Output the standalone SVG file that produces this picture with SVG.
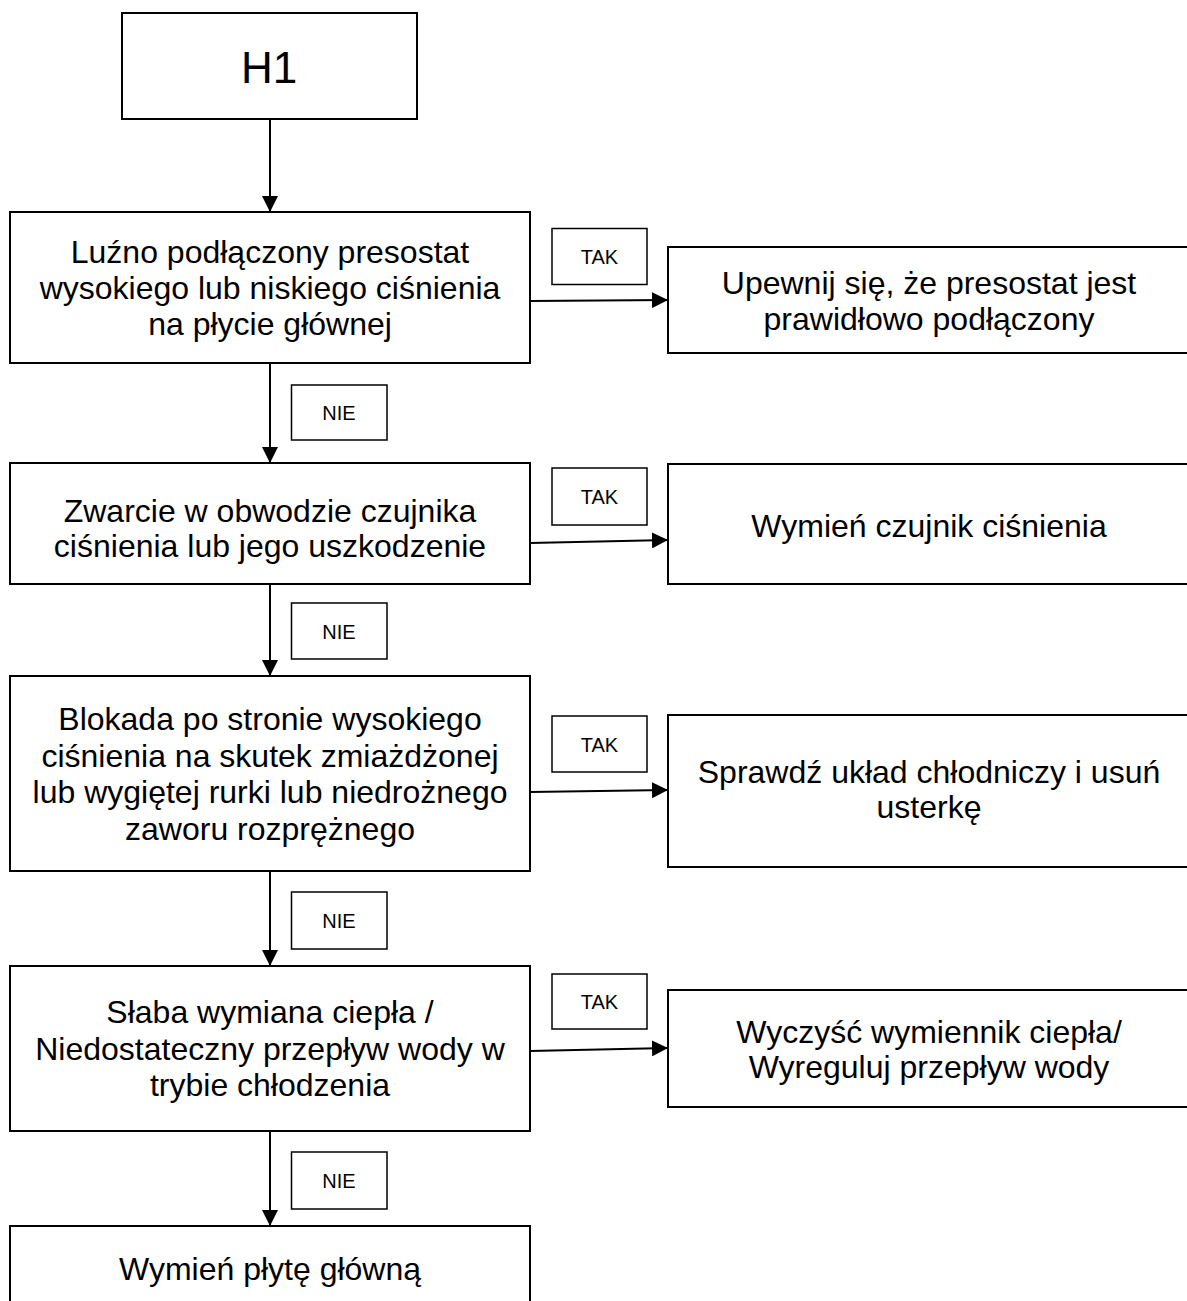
<svg xmlns="http://www.w3.org/2000/svg" width="1187" height="1301" viewBox="0 0 1187 1301">
<defs>
<style>
.box{fill:#fff;stroke:#000;stroke-width:2}
.lbl{fill:#fff;stroke:#000;stroke-width:1.5}
.t{font-family:"Liberation Sans",Arial,sans-serif;font-size:32px;text-anchor:middle;fill:#000}
.s{font-size:20px}
.h{font-size:44px}
.conn{stroke:#000;stroke-width:2;fill:none;marker-end:url(#arr)}
</style>
<marker id="arr" markerUnits="userSpaceOnUse" viewBox="0 0 16 16" refX="16" refY="8" markerWidth="16" markerHeight="16" orient="auto">
<path d="M0,0 L16,8 L0,16 z" fill="#000"/>
</marker>
</defs>
<rect width="1187" height="1301" fill="#fff"/>

<g id="h1">
<rect class="box" x="122" y="13" width="295" height="106"/>
<text class="t h" x="269" y="83">H1</text>
</g>

<g id="q1">
<rect class="box" x="10" y="212" width="520" height="151"/>
<text class="t" x="270" y="263">Luźno podłączony presostat</text>
<text class="t" x="270" y="299">wysokiego lub niskiego ciśnienia</text>
<text class="t" x="270" y="335">na płycie głównej</text>
</g>
<g id="a1">
<rect class="box" x="668" y="247" width="522" height="106"/>
<text class="t" x="929" y="294">Upewnij się, że presostat jest</text>
<text class="t" x="929" y="330">prawidłowo podłączony</text>
</g>

<g id="q2">
<rect class="box" x="10" y="463" width="520" height="121"/>
<text class="t" x="270" y="522">Zwarcie w obwodzie czujnika</text>
<text class="t" x="270" y="557">ciśnienia lub jego uszkodzenie</text>
</g>
<g id="a2">
<rect class="box" x="668" y="464" width="522" height="120"/>
<text class="t" x="929" y="537">Wymień czujnik ciśnienia</text>
</g>

<g id="q3">
<rect class="box" x="10" y="676" width="520" height="195"/>
<text class="t" x="270" y="730">Blokada po stronie wysokiego</text>
<text class="t" x="270" y="767">ciśnienia na skutek zmiażdżonej</text>
<text class="t" x="270" y="803">lub wygiętej rurki lub niedrożnego</text>
<text class="t" x="270" y="840">zaworu rozprężnego</text>
</g>
<g id="a3">
<rect class="box" x="668" y="715" width="522" height="152"/>
<text class="t" x="929" y="783">Sprawdź układ chłodniczy i usuń</text>
<text class="t" x="929" y="818">usterkę</text>
</g>

<g id="q4">
<rect class="box" x="10" y="966" width="520" height="165"/>
<text class="t" x="270" y="1023">Słaba wymiana ciepła /</text>
<text class="t" x="270" y="1060">Niedostateczny przepływ wody w</text>
<text class="t" x="270" y="1096">trybie chłodzenia</text>
</g>
<g id="a4">
<rect class="box" x="668" y="990" width="522" height="117"/>
<text class="t" x="929" y="1043">Wyczyść wymiennik ciepła/</text>
<text class="t" x="929" y="1078">Wyreguluj przepływ wody</text>
</g>

<g id="end">
<rect class="box" x="10" y="1226" width="520" height="100"/>
<text class="t" x="270" y="1280">Wymień płytę główną</text>
</g>

<g id="labels">
<g id="tak1"><rect class="lbl" x="552" y="228.5" width="95" height="56"/><text class="t s" x="599.5" y="264">TAK</text></g>
<g id="tak2"><rect class="lbl" x="552" y="468" width="95" height="57"/><text class="t s" x="599.5" y="504">TAK</text></g>
<g id="tak3"><rect class="lbl" x="552" y="716" width="95" height="56"/><text class="t s" x="599.5" y="752">TAK</text></g>
<g id="tak4"><rect class="lbl" x="552" y="974" width="95" height="55"/><text class="t s" x="599.5" y="1009">TAK</text></g>
<g id="nie1"><rect class="lbl" x="291.5" y="385" width="95.5" height="55"/><text class="t s" x="339" y="420">NIE</text></g>
<g id="nie2"><rect class="lbl" x="291.5" y="603" width="95.5" height="56"/><text class="t s" x="339" y="639">NIE</text></g>
<g id="nie3"><rect class="lbl" x="291.5" y="892" width="95.5" height="57"/><text class="t s" x="339" y="928">NIE</text></g>
<g id="nie4"><rect class="lbl" x="291.5" y="1152" width="95.5" height="57"/><text class="t s" x="339" y="1188">NIE</text></g>
</g>

<g id="connectors">
<line class="conn" x1="270" y1="119" x2="270" y2="212"/>
<line class="conn" x1="270" y1="363" x2="270" y2="463"/>
<line class="conn" x1="270" y1="584" x2="270" y2="676"/>
<line class="conn" x1="270" y1="871" x2="270" y2="966"/>
<line class="conn" x1="270" y1="1131" x2="270" y2="1226"/>
<line class="conn" x1="530" y1="301" x2="668" y2="300"/>
<line class="conn" x1="530" y1="543" x2="668" y2="540"/>
<line class="conn" x1="530" y1="792" x2="668" y2="790"/>
<line class="conn" x1="530" y1="1051" x2="668" y2="1048"/>
</g>
</svg>
